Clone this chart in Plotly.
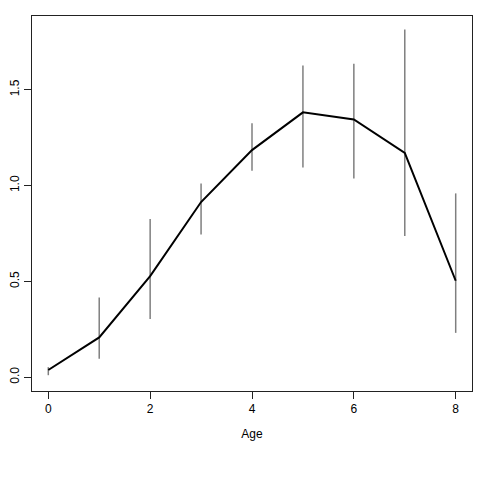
import plotly.graph_objects as go

# age and estimated means with interval bounds
age = [0, 1, 2, 3, 4, 5, 6, 7, 8]
mean = [0.037, 0.207, 0.527, 0.914, 1.185, 1.382, 1.345, 1.170, 0.503]
upper = [0.052, 0.416, 0.825, 1.010, 1.325, 1.626, 1.636, 1.815, 0.959]
lower = [0.010, 0.096, 0.303, 0.745, 1.077, 1.094, 1.037, 0.736, 0.231]

err_plus = [u - m for u, m in zip(upper, mean)]
err_minus = [m - l for m, l in zip(mean, lower)]

fig = go.Figure()

# vertical interval bars (no caps)
fig.add_trace(go.Scatter(
    x=age, y=mean, mode='markers',
    marker=dict(size=0.1, color='rgba(0,0,0,0)'),
    error_y=dict(type='data', symmetric=False, array=err_plus, arrayminus=err_minus,
                 color='#7f7f7f', thickness=1.5, width=0),
    showlegend=False, hoverinfo='skip'
))

# mean line
fig.add_trace(go.Scatter(
    x=age, y=mean, mode='lines',
    line=dict(color='black', width=2),
    showlegend=False
))

fig.update_layout(
    width=480, height=480,
    margin=dict(l=32, r=8, t=16, b=89),
    plot_bgcolor='white', paper_bgcolor='white',
    font=dict(family='Liberation Sans, Arial, sans-serif', size=12, color='black'),
)
fig.update_xaxes(
    range=[-0.32, 8.32], tickvals=[0, 2, 4, 6, 8],
    showgrid=False, zeroline=False, automargin=False,
    showline=True, linecolor='#222', linewidth=1, mirror=True,
    ticks='outside', ticklen=7, tickcolor='#222',
    title=dict(text='Age', standoff=14, font=dict(size=12)),
)
fig.update_yaxes(
    range=[-0.0725, 1.885], tickvals=[0, 0.5, 1.0, 1.5], ticktext=['0.0', '0.5', '1.0', '1.5'],
    showgrid=False, zeroline=False, automargin=False,
    showline=True, linecolor='#222', linewidth=1, mirror=True,
    ticks='outside', ticklen=7, tickcolor='#222', tickangle=-90,
)

# page body has a default margin; remove it so the chart sits at the corner
fig.write_html("out.html", config={'displayModeBar': False},
               post_script="document.body.style.margin='0';")
